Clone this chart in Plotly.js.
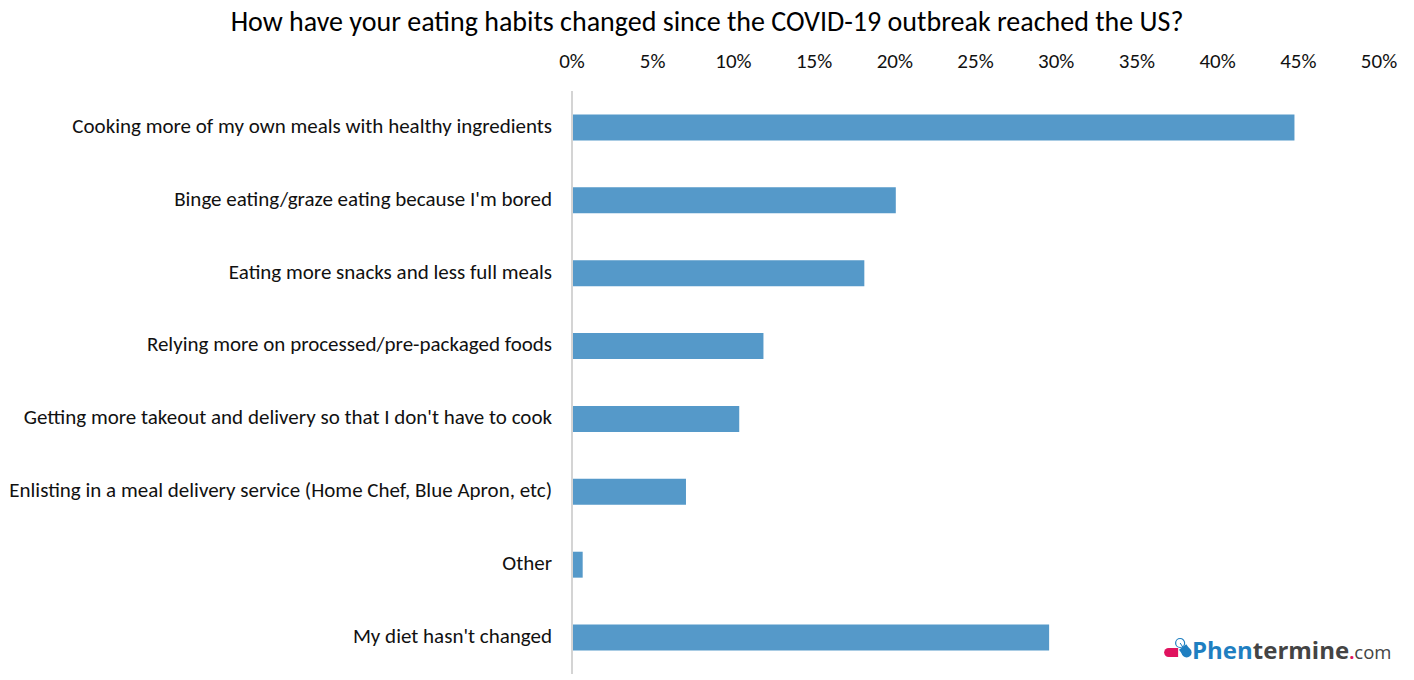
<!DOCTYPE html>
<html><head><meta charset="utf-8">
<script src="https://cdn.plot.ly/plotly-3.0.1.min.js"></script>
<style>html,body{margin:0;padding:0;background:#fff}</style></head>
<body><div id="chart" style="width:1414px;height:680px"></div>
<script>
const chartTitle = "How have your eating habits changed since the COVID-19 outbreak reached the US?";
const categories = [
 "Cooking more of my own meals with healthy ingredients",
 "Binge eating/graze eating because I'm bored",
 "Eating more snacks and less full meals",
 "Relying more on processed/pre-packaged foods",
 "Getting more takeout and delivery so that I don't have to cook",
 "Enlisting in a meal delivery service (Home Chef, Blue Apron, etc)",
 "Other",
 "My diet hasn't changed"];
const values = [44.7, 20, 18.05, 11.8, 10.3, 7, 0.6, 29.5];
const tickVals = [0,5,10,15,20,25,30,35,40,45,50];
const tickText = tickVals.map(v => v + "%");
const W = 1414, H = 680, mL = 572.5, mR = 34, mT = 91, mB = 6;
const px = x => (x - mL) / (W - mL - mR);
const py = y => 1 - (y - mT) / (H - mT - mB);
const font = "Carlito, Lato, 'Open Sans', sans-serif";
const pink = "#e0135f", blue = "#1f7fc1";
function circle(cx, cy, r, fill, line) {
  return {type: "circle", xref: "paper", yref: "paper", x0: px(cx-r), x1: px(cx+r), y0: py(cy+r), y1: py(cy-r), fillcolor: fill, line: {color: line || fill, width: line ? 1.2 : 0}};
}
function seg(x0, y0, x1, y1, color, w) {
  return {type: "line", xref: "paper", yref: "paper", x0: px(x0), x1: px(x1), y0: py(y0), y1: py(y1), line: {color: color, width: w}};
}
Plotly.newPlot("chart", [{
  type: "bar", orientation: "h", y: categories, x: values,
  marker: {color: "#5599c9"}, hoverinfo: "x+y"
}], {
  width: W, height: H, margin: {l: mL, r: mR, t: mT, b: mB, pad: 0},
  paper_bgcolor: "#fff", plot_bgcolor: "#fff", bargap: 0.644, showlegend: false,
  font: {family: font, size: 21, color: "#111"},
  title: {text: chartTitle, font: {family: font, size: 28, color: "#000"}, x: 707/W, xanchor: "center", y: 1-21.5/H, yanchor: "middle"},
  xaxis: {side: "top", range: [0, 50], tickvals: tickVals, ticktext: tickText, showgrid: false, zeroline: false, showline: false, ticks: "outside", ticklen: 14, ticklabelshift: -1, tickcolor: "rgba(0,0,0,0)", tickfont: {size: 21, color: "#111"}, fixedrange: true},
  yaxis: {autorange: "reversed", type: "category", showgrid: false, zeroline: false, showline: true, linecolor: "#d4d4d4", linewidth: 1.5, ticks: "outside", ticklen: 15, ticklabelshift: 2, tickcolor: "rgba(0,0,0,0)", tickfont: {size: 21, color: "#111"}, fixedrange: true},
  annotations: [{
    xref: "paper", yref: "paper", x: px(1190), y: py(649), xanchor: "left", yanchor: "middle", showarrow: false,
    text: '<b><span style="color:#1f7fc1;font-size:24px">Phen</span><span style="color:#444;font-size:24px">termine</span></b><span style="color:#e0135f;font-size:18px"><b>.</b></span><span style="color:#444;font-size:18.5px">com</span>',
    font: {family: "'Open Sans', sans-serif", size: 24}
  }],
  shapes: [
    seg(1169, 652.5, 1178, 652.5, pink, 9),
    circle(1168.5, 652.5, 4.5, pink),
    circle(1180, 643, 4.5, "#fff", blue),
    seg(1180, 643, 1184, 649, blue, 1),
    circle(1186.5, 652.5, 5, blue),
    seg(1182.5, 647, 1186.5, 652.5, blue, 9)
  ]
}, {displayModeBar: false});
</script></body></html>
